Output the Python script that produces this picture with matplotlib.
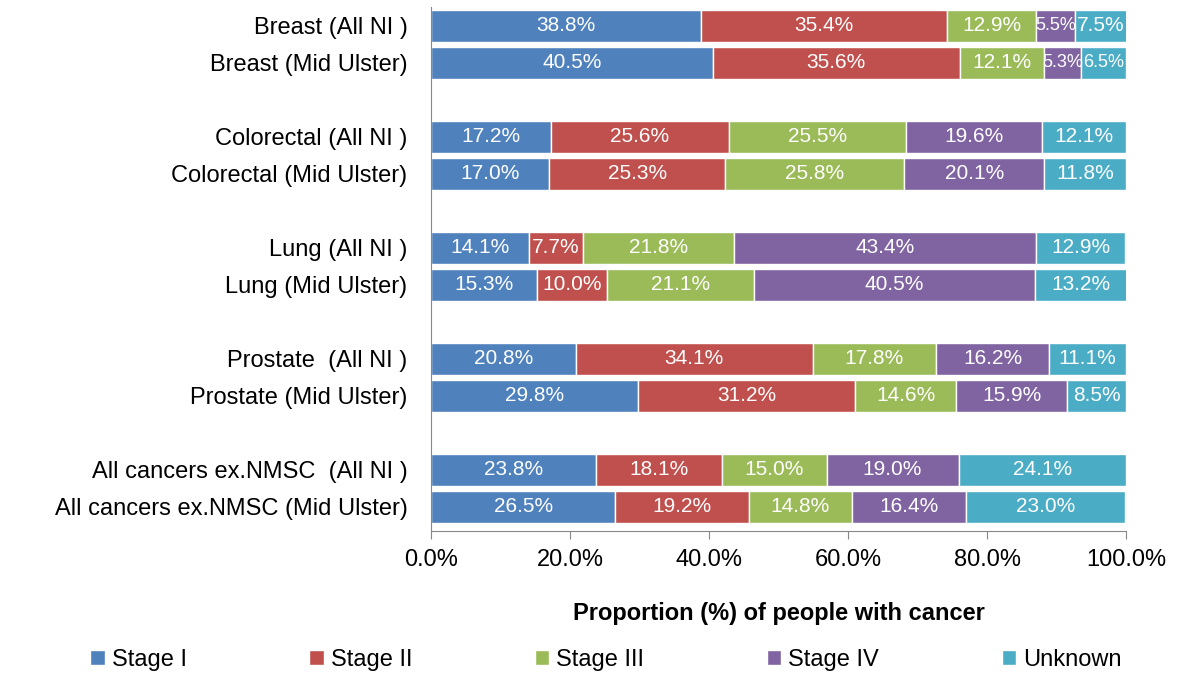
import matplotlib.pyplot as plt
import numpy as np

plt.rcParams['font.family'] = ['Liberation Sans', 'DejaVu Sans']

# categories (top to bottom)
labels = ['Breast (All NI )', 'Breast (Mid Ulster)',
          'Colorectal (All NI )', 'Colorectal (Mid Ulster)',
          'Lung (All NI )', 'Lung (Mid Ulster)',
          'Prostate  (All NI )', 'Prostate (Mid Ulster)',
          'All cancers ex.NMSC  (All NI )', 'All cancers ex.NMSC (Mid Ulster)']

stages = ['Stage I', 'Stage II', 'Stage III', 'Stage IV', 'Unknown']
colors = ['#4F81BD', '#C0504D', '#9BBB59', '#8064A2', '#4BACC6']

stage1 = [38.8, 40.5, 17.2, 17.0, 14.1, 15.3, 20.8, 29.8, 23.8, 26.5]
stage2 = [35.4, 35.6, 25.6, 25.3, 7.7, 10.0, 34.1, 31.2, 18.1, 19.2]
stage3 = [12.9, 12.1, 25.5, 25.8, 21.8, 21.1, 17.8, 14.6, 15.0, 14.8]
stage4 = [5.5, 5.3, 19.6, 20.1, 43.4, 40.5, 16.2, 15.9, 19.0, 16.4]
unknown = [7.5, 6.5, 12.1, 11.8, 12.9, 13.2, 11.1, 8.5, 24.1, 23.0]

series = [stage1, stage2, stage3, stage4, unknown]

# pairs separated by an empty slot
ypos = np.array([0, 1, 3, 4, 6, 7, 9, 10, 12, 13])

fig = plt.figure(figsize=(11.79, 6.73), dpi=100)
ax = fig.add_axes([0.3656, 0.211, 0.5895, 0.7779])

left = np.zeros(len(labels))
for vals, col, name in zip(series, colors, stages):
    vals = np.array(vals)
    ax.barh(ypos, vals, left=left, height=0.87, color=col,
            edgecolor='white', linewidth=1, label=name)
    for y, l, v in zip(ypos, left, vals):
        fs = 15 if v >= 7 else 13   # narrow segments get a slightly smaller label
        ax.text(l + v / 2, y, '%.1f%%' % v, ha='center', va='center',
                color='white', fontsize=fs)
    left += vals

ax.set_xlim(0, 100)
ax.set_ylim(13.65, -0.5)
ax.set_yticks(ypos)
ax.set_yticklabels(labels, fontsize=17)
ax.set_xticks(np.arange(0, 101, 20))
ax.set_xticklabels(['%.1f%%' % v for v in np.arange(0, 101, 20)], fontsize=17)
ax.tick_params(axis='y', length=0, pad=17)
ax.tick_params(axis='x', length=6, color='#888888', pad=7)

for s in ['top', 'right']:
    ax.spines[s].set_visible(False)
ax.spines['left'].set_color('#888888')
ax.spines['bottom'].set_color('#888888')

ax.set_xlabel('Proportion (%) of people with cancer', fontsize=17,
              fontweight='bold', labelpad=22)

fig.legend(loc='center', bbox_to_anchor=(0.514, 0.02), ncol=5, frameon=False,
           fontsize=17, handlelength=0.6, handleheight=0.6, handletextpad=0.3,
           columnspacing=5.2)

fig.savefig('out.png', dpi=100)
